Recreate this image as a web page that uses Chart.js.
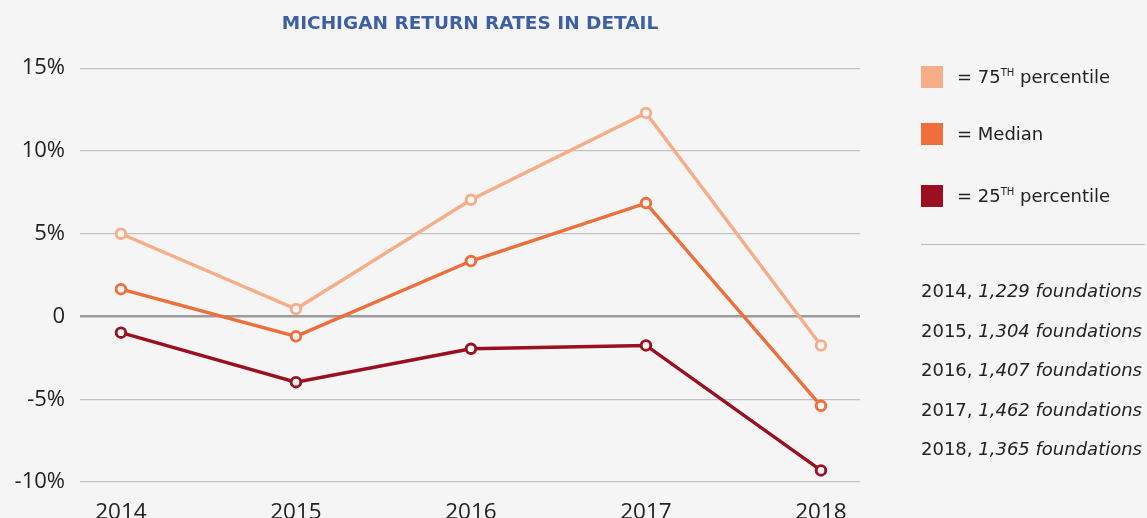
<!DOCTYPE html>
<html>
<head>
<meta charset="utf-8">
<script src="https://cdn.jsdelivr.net/npm/chart.js@4.4.1/dist/chart.umd.min.js"></script>
<style>
  html, body { margin: 0; padding: 0; background: #f5f5f5; }
  body { width: 1147px; height: 518px; position: relative; overflow: hidden; font-family: "DejaVu Sans", sans-serif; color: #222; }
  #wrap { position: absolute; left: 0; top: 0; width: 1147px; height: 518px; }
  .legend { position: absolute; left: 921px; top: 0; width: 226px; }
  .item { position: absolute; left: 0; height: 22px; white-space: nowrap; font-size: 18px; line-height: 22px; }
  .item .sw { display: inline-block; width: 22px; height: 22px; vertical-align: top; margin-right: 14px; }
  .item sup { font-size: 10px; vertical-align: 7px; line-height: 0; }
  .sep { position: absolute; left: 921px; top: 244px; width: 224px; height: 0; border-top: 1.5px solid #bbb; }
  .count { position: absolute; left: 921px; font-size: 18px; white-space: nowrap; line-height: 20px; }
  .count i { font-style: italic; }
</style>
</head>
<body>
<div id="wrap"><canvas id="mycanvas" width="1147" height="518"></canvas></div>
<div class="legend" id="legend"></div>
<div class="sep"></div>
<div id="counts"></div>
<script>
var years = [2014, 2015, 2016, 2017, 2018];
var p75 = [5.0, 0.45, 7.05, 12.3, -1.75];
var median = [1.65, -1.2, 3.35, 6.85, -5.4];
var p25 = [-0.98, -3.97, -1.95, -1.75, -9.3];
var yTicks = [-10, -5, 0, 5, 10, 15];
var foundations = ['1,229', '1,304', '1,407', '1,462', '1,365'];

var colP75 = '#f7ad88';
var colMed = '#ee6e3c';
var colP25 = '#9a1020';

function pts(vals) {
    var out = [];
    for (var i in years) {
        out.push({x: years[i], y: vals[i]});
    }
    return out;
}

function series(label, vals, color) {
    return {
        label: label,
        data: pts(vals),
        borderColor: color,
        backgroundColor: '#f7f7f7',
        borderWidth: 3.4,
        pointRadius: 4.8,
        pointBorderWidth: 2.9,
        pointBackgroundColor: '#f7f7f7',
        pointBorderColor: color,
        tension: 0
    };
}

var ctx = document.getElementById('mycanvas');
var myChart = new Chart(ctx, {
    type: 'line',
    data: {
        datasets: [
            series('75th percentile', p75, colP75),
            series('Median', median, colMed),
            series('25th percentile', p25, colP25)
        ]
    },
    options: {
        responsive: false,
        animation: false,
        events: [],
        layout: { padding: { left: 0, right: 287, top: 0, bottom: 0 } },
        plugins: {
            legend: { display: false },
            tooltip: { enabled: false },
            title: {
                display: true,
                fullSize: false,
                text: 'MICHIGAN RETURN RATES IN DETAIL',
                color: '#3f5fa3',
                font: { family: 'DejaVu Sans', size: 18.5, weight: 'bold' },
                padding: { top: 13, bottom: 33 }
            }
        },
        scales: {
            x: {
                type: 'linear',
                min: 2013.766,
                max: 2018.223,
                grid: { display: false },
                border: { display: false },
                afterFit: function(scale) { scale.height = 36; },
                ticks: {
                    stepSize: 1,
                    includeBounds: false,
                    maxRotation: 0,
                    padding: 9,
                    color: '#222',
                    font: { family: 'Open Sans', size: 22.5 },
                    callback: function(v) { return String(v); }
                }
            },
            y: {
                min: -10,
                max: 15,
                afterFit: function(scale) { scale.width = 80; },
                afterBuildTicks: function(scale) {
                    scale.ticks = yTicks.map(function(v) { return {value: v}; });
                },
                border: { display: false },
                grid: {
                    drawTicks: false,
                    color: function(c) { return c.tick && c.tick.value === 0 ? '#9c9c9c' : '#c2c2c2'; },
                    lineWidth: function(c) { return c.tick && c.tick.value === 0 ? 2.5 : 1.3; }
                },
                ticks: {
                    padding: 15,
                    color: '#222',
                    font: { family: 'Open Sans', size: 22 },
                    callback: function(v) { return v === 0 ? '0' : v + '%'; }
                }
            }
        }
    }
});

// legend and foundation counts on the right
var legendItems = [
    {color: colP75, html: '= 75<sup>TH</sup> percentile', top: 66},
    {color: colMed, html: '= Median', top: 123},
    {color: colP25, html: '= 25<sup>TH</sup> percentile', top: 185}
];
var lg = document.getElementById('legend');
legendItems.forEach(function(it) {
    var d = document.createElement('div');
    d.className = 'item';
    d.style.top = it.top + 'px';
    d.innerHTML = '<span class="sw" style="background:' + it.color + '"></span>' + it.html;
    lg.appendChild(d);
});

var cn = document.getElementById('counts');
for (var i in years) {
    var d = document.createElement('div');
    d.className = 'count';
    d.style.top = (281 + i * 39.5) + 'px';
    d.innerHTML = years[i] + ', <i>' + foundations[i] + ' foundations</i>';
    cn.appendChild(d);
}
</script>
</body>
</html>
